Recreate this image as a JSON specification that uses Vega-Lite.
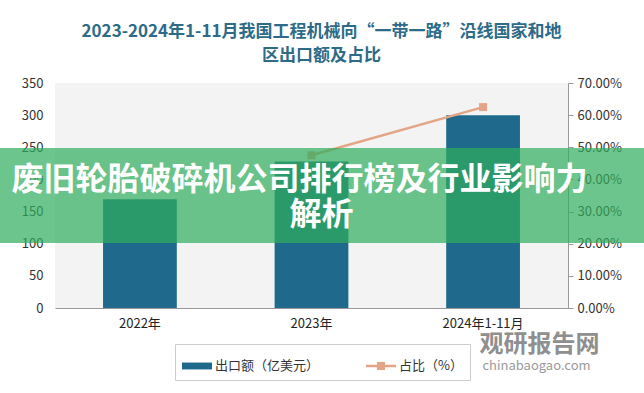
{
  "$schema": "https://vega.github.io/schema/vega-lite/v6.json",
  "width": 513,
  "height": 225,
  "autosize": "none",
  "padding": {"left": 55, "top": 83, "right": 76, "bottom": 85},
  "background": "white",
  "config": {
    "view": {"fill": "#f3f3f3", "stroke": null},
    "font": "Noto Sans CJK SC"
  },
  "title": {
    "text": ["2023-2024年1-11月我国工程机械向“一带一路”沿线国家和地", "区出口额及占比"],
    "fontSize": 17,
    "fontWeight": "bold",
    "color": "#2d6b89",
    "lineHeight": 24,
    "offset": 12,
    "dx": 10,
    "anchor": "middle"
  },
  "data": {
    "values": [
      {"year": "2022年", "export": 169, "share": null},
      {"year": "2023年", "export": 228, "share": 0.475},
      {"year": "2024年1-11月", "export": 300, "share": 0.625}
    ]
  },
  "layer": [
    {
      "layer": [
        {
          "mark": {"type": "bar"},
          "encoding": {
            "x": {
              "field": "year", "type": "nominal", "sort": null,
              "scale": {"paddingInner": 0.57, "paddingOuter": 0.28},
              "axis": {"title": null, "labelAngle": 0, "ticks": false, "domainColor": "#999", "labelFontSize": 13, "labelColor": "#222", "labelPadding": 9}
            },
            "y": {
              "field": "export", "type": "quantitative",
              "scale": {"domain": [0, 350], "nice": false},
              "axis": {"title": null, "values": [0, 50, 100, 150, 200, 250, 300, 350], "grid": false, "domain": false, "ticks": false, "labelFontSize": 13, "labelColor": "#333", "labelPadding": 12}
            },
            "color": {
              "datum": "出口额（亿美元）",
              "scale": {"domain": ["出口额（亿美元）", "占比（%）"], "range": ["#1f6a8c", "#e4a587"]},
              "legend": {
                "orient": "none",
                "legendX": 120,
                "legendY": 261,
                "direction": "horizontal",
                "title": null,
                "symbolSize": 900,
                "symbolStrokeWidth": 0,
                "labelFontSize": 13,
                "labelColor": "#333",
                "labelOffset": 3,
                "columnPadding": 46,
                "strokeColor": "#cccccc",
                "padding": 7,
                "encode": {
                  "symbols": {
                    "update": {
                      "shape": {"signal": "datum.value === '出口额（亿美元）' ? 'M-1,-0.23H1V0.23H-1Z' : 'M-1,-0.09H1V0.09H-1Z M-0.27,-0.27H0.27V0.27H-0.27Z'"},
                      "fill": {"scale": "color", "field": "value"},
                      "stroke": {"value": "transparent"}
                    }
                  }
                }
              }
            }
          }
        },
        {
          "mark": {"type": "line", "strokeWidth": 2.5, "point": {"shape": "square", "size": 64, "filled": true}},
          "encoding": {
            "x": {"field": "year", "type": "nominal", "sort": null},
            "y": {
              "field": "share", "type": "quantitative",
              "scale": {"domain": [0, 0.7], "nice": false},
              "axis": {"title": null, "orient": "right", "format": ".2%", "values": [0, 0.1, 0.2, 0.3, 0.4, 0.5, 0.6, 0.7], "grid": false, "domainColor": "#999", "tickColor": "#999", "tickSize": 5, "labelFontSize": 13, "labelColor": "#333", "labelPadding": 4}
            },
            "color": {"datum": "占比（%）"}
          }
        }
      ],
      "resolve": {"scale": {"y": "independent"}}
    },
    {
      "data": {"values": [{}]},
      "layer": [
        {
          "mark": {"type": "rect", "color": "#30ad5d", "opacity": 0.71},
          "encoding": {
            "x": {"datum": 0, "type": "quantitative", "scale": {"domain": [0, 644], "range": [-55, 589]}, "axis": null},
            "x2": {"datum": 644},
            "y": {"datum": 249, "type": "quantitative", "scale": {"domain": [0, 350], "nice": false}, "axis": null},
            "y2": {"datum": 101}
          }
        },
        {
          "mark": {"type": "text", "text": "废旧轮胎破碎机公司排行榜及行业影响力", "fontSize": 32, "fontWeight": "bold", "color": "white", "dx": -12},
          "encoding": {"y": {"datum": 199, "type": "quantitative", "scale": {"domain": [0, 350], "nice": false}, "axis": null}}
        },
        {
          "mark": {"type": "text", "text": "解析", "fontSize": 32, "fontWeight": "bold", "color": "white", "dx": 10},
          "encoding": {"y": {"datum": 144, "type": "quantitative", "scale": {"domain": [0, 350], "nice": false}, "axis": null}}
        },
        {
          "mark": {"type": "text", "text": "观研报告网", "fontSize": 24, "fontWeight": "bold", "color": "#8f8f8f", "dx": 228},
          "encoding": {"y": {"datum": -57, "type": "quantitative", "scale": {"domain": [0, 350], "nice": false}, "axis": null}}
        },
        {
          "mark": {"type": "text", "text": "chinabaogao.com", "fontSize": 13, "color": "#9a9a9a", "dx": 225},
          "encoding": {"y": {"datum": -90, "type": "quantitative", "scale": {"domain": [0, 350], "nice": false}, "axis": null}}
        }
      ]
    }
  ],
  "resolve": {"scale": {"x": "independent", "y": "independent"}}
}
